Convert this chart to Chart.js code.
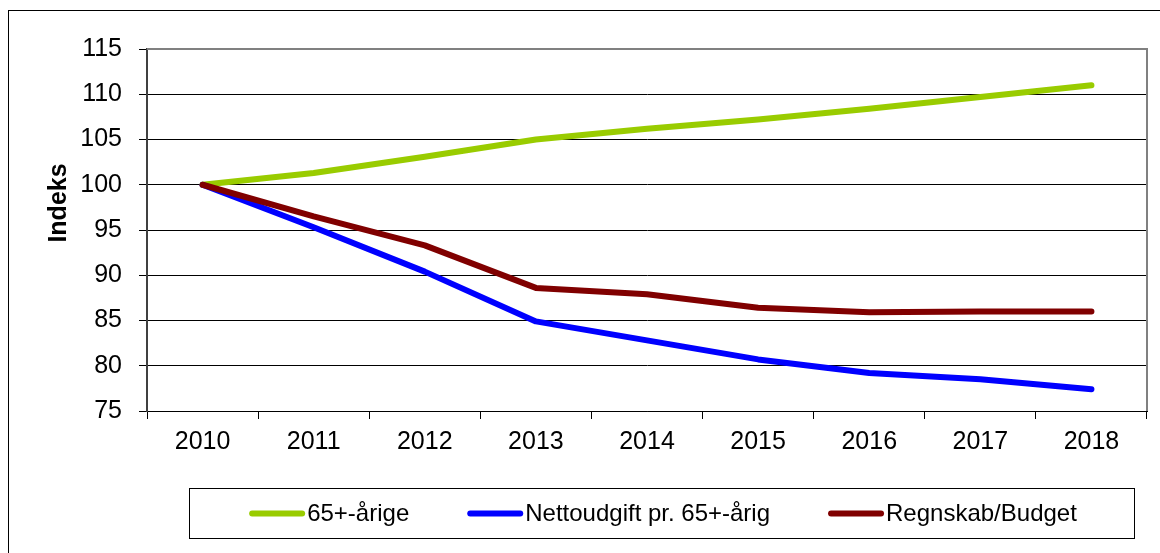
<!DOCTYPE html>
<html>
<head>
<meta charset="utf-8">
<script src="https://cdn.jsdelivr.net/npm/chart.js@4/dist/chart.umd.min.js"></script>
<style>
  html, body { margin: 0; padding: 0; background: #fff; }
  #wrap { width: 1160px; height: 553px; position: relative; }
</style>
</head>
<body>
<div id="wrap"><canvas id="indeksChart" width="1160" height="553"></canvas></div>
<script>
// Data
const aar = ['2010', '2011', '2012', '2013', '2014', '2015', '2016', '2017', '2018'];
const aarige65 = [100, 101.3, 103.1, 105.0, 106.2, 107.2, 108.4, 109.7, 111.0];
const nettoudgift = [100, 95.3, 90.4, 84.9, 82.8, 80.7, 79.2, 78.5, 77.4];
const regnskab = [100, 96.5, 93.3, 88.6, 87.9, 86.4, 85.9, 86.0, 86.0];

const FONT = '"Liberation Sans", Arial, sans-serif';

// frame, plot border, y title and legend box
const rammePlugin = {
    id: 'ramme',
    beforeDraw(chart) {
        const c = chart.ctx;
        c.save();
        c.strokeStyle = '#000';
        c.lineWidth = 1;
        c.strokeRect(8.5, 10.5, 1200, 600);
        c.restore();
    },
    beforeDatasetsDraw(chart) {
        const a = chart.chartArea;
        const c = chart.ctx;
        c.save();
        c.strokeStyle = '#808080';
        c.lineWidth = 2;
        c.beginPath();
        c.moveTo(a.left, a.top);
        c.lineTo(a.right, a.top);
        c.lineTo(a.right, a.bottom);
        c.stroke();
        c.restore();
    },
    afterDraw(chart) {
        const c = chart.ctx;
        c.save();
        // y axis title
        c.translate(59, 203);
        c.rotate(-Math.PI / 2);
        c.font = 'bold 25px ' + FONT;
        c.fillStyle = '#000';
        c.textAlign = 'center';
        c.textBaseline = 'middle';
        c.fillText('Indeks', 0, 0);
        c.restore();

        // legend
        const box = { x: 189.5, y: 488.5, w: 945, h: 50 };
        c.save();
        c.strokeStyle = '#000';
        c.lineWidth = 1;
        c.strokeRect(box.x, box.y, box.w, box.h);
        c.font = '24px ' + FONT;
        c.textBaseline = 'middle';
        const ds = chart.data.datasets;
        const linje = 56, gap = 2, mellem = 58;
        let total = 0;
        ds.forEach((d, i) => {
            total += linje + gap + c.measureText(d.label).width;
            if (i < ds.length - 1) total += mellem;
        });
        let x = box.x + box.w / 2 - total / 2 + 1;
        const y = box.y + box.h / 2;
        ds.forEach(d => {
            c.strokeStyle = d.borderColor;
            c.lineWidth = 6;
            c.lineCap = 'round';
            c.beginPath();
            c.moveTo(x + 3, y);
            c.lineTo(x + linje - 3, y);
            c.stroke();
            c.fillStyle = '#000';
            c.fillText(d.label, x + linje + gap, y + 1);
            x += linje + gap + c.measureText(d.label).width + mellem;
        });
        c.restore();
    }
};

const ctx = document.getElementById('indeksChart').getContext('2d');
new Chart(ctx, {
    type: 'line',
    data: {
        labels: aar,
        datasets: [
            { label: '65+-årige', data: aarige65, borderColor: '#99CC00', order: 3 },
            { label: 'Nettoudgift pr. 65+-årig', data: nettoudgift, borderColor: '#0000FF', order: 2 },
            { label: 'Regnskab/Budget', data: regnskab, borderColor: '#800000', order: 1 }
        ]
    },
    options: {
        responsive: false,
        animation: false,
        layout: { padding: { left: 0, top: 49, right: 13, bottom: 82 } },
        elements: {
            line: { borderWidth: 6, tension: 0, borderCapStyle: 'round', borderJoinStyle: 'round', fill: false },
            point: { radius: 0, hoverRadius: 0 }
        },
        plugins: {
            legend: { display: false },
            tooltip: { enabled: false }
        },
        scales: {
            x: {
                offset: true,
                afterFit: s => { s.height = 60; },
                grid: { offset: true, drawOnChartArea: false, color: '#000', tickLength: 8 },
                border: { color: '#000', width: 1 },
                ticks: { color: '#000', font: { family: FONT, size: 25 }, padding: 8, maxRotation: 0 }
            },
            y: {
                min: 75,
                max: 115,
                afterFit: s => { s.width = 147; },
                grid: { color: '#000', tickLength: 8, tickColor: '#000' },
                border: { color: '#404040', width: 2 },
                ticks: { stepSize: 5, color: '#000', font: { family: FONT, size: 25 }, padding: 17 }
            }
        }
    },
    plugins: [rammePlugin]
});
</script>
</body>
</html>
